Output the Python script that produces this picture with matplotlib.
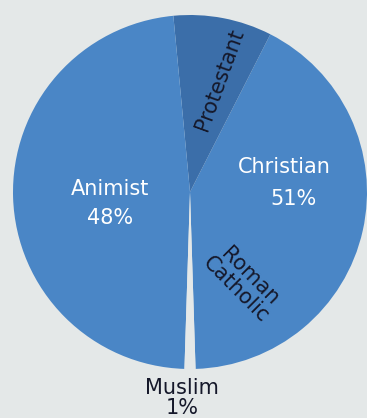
import matplotlib.pyplot as plt

# religion shares (percent), drawn counter-clockwise from the bottom gap
labels = ['Roman Catholic', 'Protestant', 'Animist', 'Muslim']
shares = [42, 9, 48, 1]
christian_total = 51

bg = '#e4e8e8'
blue = '#4a86c6'
dark_blue = '#3b6ea9'
colors = [blue, dark_blue, blue, bg]

W, H = 367, 418
fig = plt.figure(figsize=(W / 100, H / 100), dpi=100)
fig.patch.set_facecolor(bg)
ax = fig.add_axes([0, 0, 1, 1])
ax.set_facecolor(bg)

# muslim gap centred straight down
start = 270 + 360 * shares[3] / 100 / 2
ax.pie(shares, colors=colors, startangle=start, counterclock=True,
       center=(190, H - 192), radius=177,
       wedgeprops=dict(linewidth=0))

ax.set_xlim(0, W)
ax.set_ylim(0, H)
ax.set_aspect('equal')
ax.axis('off')

txt = dict(ha='center', va='center', fontsize=15)
ink = '#15182a'
ax.text(110, H - 189, 'Animist', color='white', **txt)
ax.text(110, H - 218, f'{shares[2]}%', color='white', **txt)
ax.text(284, H - 167, 'Christian', color='white', **txt)
ax.text(293, H - 199, f'{christian_total}%', color='white', **txt)
ax.text(220, H - 80, 'Protestant', color=ink, rotation=70, **txt)
ax.text(243, H - 283, 'Roman\nCatholic', color=ink, rotation=-45,
        linespacing=0.95, **txt)
ax.text(182, H - 388, 'Muslim', color=ink, **txt)
ax.text(182, H - 408, f'{shares[3]}%', color=ink, **txt)

plt.savefig('out.png', dpi=100, facecolor=bg)
